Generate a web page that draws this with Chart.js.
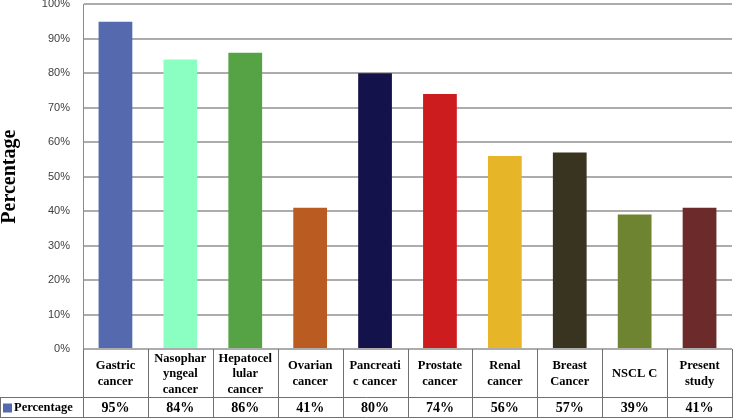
<!DOCTYPE html>
<html>
<head>
<meta charset="utf-8">
<script src="https://cdn.jsdelivr.net/npm/chart.js@4"></script>
<style>
  html, body { margin: 0; padding: 0; background: #fff; }
</style>
</head>
<body>
<canvas id="myChart" width="733" height="419"></canvas>
<script>
// categories (already wrapped the way the table shows them)
const categories = [
    ["Gastric", "cancer"],
    ["Nasophar", "yngeal", "cancer"],
    ["Hepatocel", "lular", "cancer"],
    ["Ovarian", "cancer"],
    ["Pancreati", "c cancer"],
    ["Prostate", "cancer"],
    ["Renal", "cancer"],
    ["Breast", "Cancer"],
    ["NSCL C"],
    ["Present", "study"]
];
const seriesName = "Percentage";
const values = [95, 84, 86, 41, 80, 74, 56, 57, 39, 41];
const yTicks = [0, 10, 20, 30, 40, 50, 60, 70, 80, 90, 100];

const barColors = ["#5469ae", "#8bfec2", "#55a345", "#ba5c22", "#14124a",
                   "#cd1c1e", "#e6b628", "#38341f", "#6e8430", "#6c2a2a"];
const serif = "'Liberation Serif', 'Times New Roman', serif";

// draws the data table under the plot (category row + value row)
const dataTable = {
    id: "dataTable",
    afterDraw(chart) {
        const ctx = chart.ctx;
        const area = chart.chartArea;
        const xs = chart.scales.x;
        const n = categories.length;
        const colW = (area.right - area.left) / n;
        const top = Math.round(area.bottom);
        const mid = top + 48;
        const bot = top + 68;

        ctx.save();
        ctx.strokeStyle = "#707070";
        ctx.lineWidth = 1;
        ctx.beginPath();
        for (let i = 0; i <= n; i++) {
            const x = Math.round(area.left + i * colW) + 0.5;
            ctx.moveTo(x, top);
            ctx.lineTo(x, bot);
        }
        ctx.moveTo(0.5, mid);
        ctx.lineTo(0.5, bot);
        ctx.moveTo(0, mid + 0.5);
        ctx.lineTo(area.right + 1, mid + 0.5);
        ctx.moveTo(0, bot + 0.5);
        ctx.lineTo(area.right + 1, bot + 0.5);
        ctx.stroke();

        ctx.fillStyle = "#000";
        ctx.textAlign = "center";
        ctx.textBaseline = "middle";
        ctx.font = "bold 12.5px " + serif;
        const lh = 15.5;
        categories.forEach((lines, i) => {
            const cx = xs.getPixelForValue(i);
            const cy = (top + mid) / 2 + 1;
            lines.forEach((t, k) => {
                ctx.fillText(t, cx, cy + (k - (lines.length - 1) / 2) * lh);
            });
        });

        ctx.font = "bold 14px " + serif;
        const vy = (mid + bot) / 2 + 1;
        values.forEach((v, i) => {
            ctx.fillText(v + "%", xs.getPixelForValue(i), vy);
        });

        // legend key cell
        ctx.fillStyle = barColors[0];
        ctx.fillRect(3, vy - 4.5, 9, 9);
        ctx.fillStyle = "#000";
        ctx.textAlign = "left";
        ctx.font = "bold 12.5px " + serif;
        ctx.fillText(seriesName, 14, vy);
        ctx.restore();
    }
};

function createBarChart(myChart) {
    var ctx = myChart.getContext("2d");
    return new Chart(ctx, {
        type: "bar",
        data: {
            labels: categories.map(c => c.join(" ")),
            datasets: [{
                label: seriesName,
                data: values,
                backgroundColor: barColors,
                borderWidth: 0,
                barPercentage: 0.52,
                categoryPercentage: 1
            }]
        },
        options: {
            responsive: false,
            animation: false,
            layout: { padding: { top: 0, left: 0, right: 1, bottom: 70 } },
            plugins: {
                legend: { display: false },
                tooltip: { enabled: false }
            },
            scales: {
                x: {
                    display: false,
                    offset: true,
                    grid: { display: false }
                },
                y: {
                    min: 0,
                    max: 100,
                    afterFit: s => { s.width = 83; },
                    afterBuildTicks: s => { s.ticks = yTicks.map(v => ({ value: v })); },
                    border: { display: true, color: "#8c8c8c", width: 1 },
                    grid: {
                        color: "#acacac",
                        lineWidth: 2,
                        drawTicks: true,
                        tickLength: 13,
                        tickColor: "rgba(0,0,0,0)"
                    },
                    ticks: {
                        padding: 0,
                        color: "#404040",
                        font: { family: "'Liberation Sans', Arial, sans-serif", size: 11, lineHeight: 0.8 },
                        callback: v => v + "%"
                    },
                    title: {
                        display: true,
                        text: "Percentage",
                        color: "#000",
                        padding: { top: 0, bottom: 0 },
                        font: { family: serif, size: 20, weight: "bold", lineHeight: 1 }
                    }
                }
            }
        },
        plugins: [dataTable]
    });
}

createBarChart(document.getElementById("myChart"));
</script>
</body>
</html>
